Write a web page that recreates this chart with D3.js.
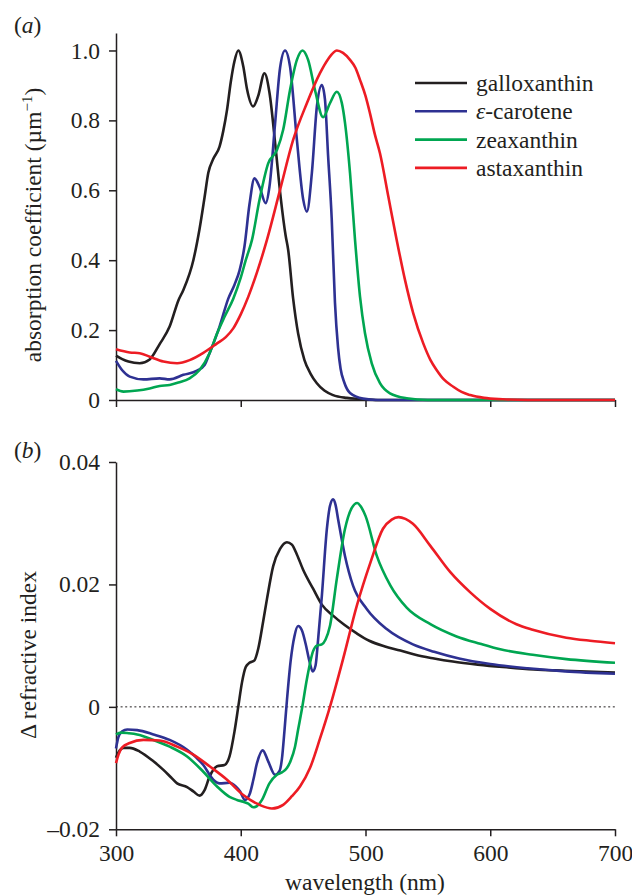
<!DOCTYPE html>
<html>
<head>
<meta charset="utf-8">
<script src="https://cdn.jsdelivr.net/npm/d3@7"></script>
<style>
  body { margin: 0; background: #fff; }
</style>
</head>
<body>
<svg id="chart" width="632" height="895"></svg>
<script>
// ---- data (wavelength nm, value) ----
const xTicks = [300, 400, 500, 600, 700];
const absTicks = [0, 0.2, 0.4, 0.6, 0.8, 1.0];
const rIdxTicks = [-0.02, 0, 0.02, 0.04];
const seriesNames = ["galloxanthin", "ε-carotene", "zeaxanthin", "astaxanthin"];

// (a) absorption coefficient
const absGallox = [[300,0.127],[305,0.117],[310,0.110],[319,0.105],[327,0.116],[335,0.160],[343,0.210],[350,0.285],[354,0.315],[362,0.400],[367,0.49],[371,0.58],[374,0.65],[378,0.69],[383,0.725],[386,0.77],[389,0.83],[392,0.91],[395,0.97],[398,1.0],[402,0.955],[405,0.89],[410,0.84],[414,0.87],[419,0.935],[423,0.88],[428,0.72],[432,0.58],[436,0.47],[438,0.43],[442,0.29],[446,0.19],[451,0.115],[456,0.075],[461,0.048],[467,0.027],[474,0.014],[485,0.006],[496,0.003],[510,0],[600,0],[700,0]];
const absEpsCar = [[300,0.112],[305,0.085],[311,0.067],[322,0.059],[335,0.062],[343,0.059],[354,0.072],[365,0.084],[371,0.10],[375,0.134],[380,0.18],[383,0.21],[390,0.29],[395,0.33],[399,0.37],[403,0.44],[407,0.56],[411,0.634],[415,0.61],[420,0.563],[423,0.61],[427.5,0.79],[431.5,0.95],[435.5,1.0],[439.5,0.954],[445,0.744],[450,0.575],[453,0.539],[457,0.649],[461,0.839],[465,0.901],[467.5,0.86],[470,0.70],[472.9,0.52],[475.5,0.28],[478,0.15],[480,0.09],[483,0.05],[487.6,0.02],[498,0.004],[510,0],[600,0],[700,0]];
const absZeax = [[300,0.031],[306,0.024],[317,0.027],[327,0.033],[335,0.040],[343,0.043],[350,0.05],[359,0.062],[367,0.086],[375,0.134],[381,0.19],[387,0.238],[394,0.29],[400,0.35],[404,0.40],[409,0.458],[415,0.572],[422,0.677],[429,0.715],[434,0.773],[439.5,0.887],[445,0.973],[449.5,1.0],[454,0.973],[459.5,0.887],[466,0.809],[471.5,0.849],[477,0.882],[481,0.85],[483.6,0.792],[487.6,0.649],[491.6,0.458],[495.6,0.296],[499.6,0.191],[505,0.105],[511.6,0.048],[519.6,0.019],[533,0.005],[550,0],[600,0],[700,0]];
const absAstax = [[300,0.145],[311,0.136],[319,0.134],[327,0.124],[338,0.11],[349,0.105],[359,0.114],[370,0.135],[381,0.162],[388,0.18],[394,0.205],[400,0.245],[406,0.295],[413,0.365],[421,0.458],[431.5,0.601],[442,0.744],[453,0.849],[463.5,0.935],[470,0.975],[477,1.0],[482,0.993],[487.6,0.973],[492,0.95],[495.6,0.916],[500,0.87],[503.6,0.82],[507.5,0.76],[511.6,0.706],[518.3,0.582],[525,0.458],[531.7,0.343],[538.3,0.248],[546.3,0.162],[552,0.115],[557,0.086],[563,0.058],[570.4,0.038],[577,0.023],[584,0.014],[595,0.006],[610,0.002],[630,0],[700,0]];

// (b) delta refractive index
const rIdxGallox = [[300,-0.0083],[303,-0.0071],[306,-0.0067],[311,-0.0067],[319,-0.0073],[330,-0.0089],[338,-0.0103],[344,-0.0115],[349,-0.0125],[357,-0.0131],[362,-0.0138],[367,-0.0145],[371,-0.0136],[375,-0.0114],[381,-0.0097],[387,-0.0095],[391,-0.0081],[395,-0.0040],[398,0.0],[401,0.0040],[404,0.0065],[407,0.0072],[411,0.0076],[414,0.0095],[418,0.014],[421,0.0176],[426,0.0230],[431.5,0.0258],[437,0.0269],[441,0.0265],[445,0.0249],[450,0.0224],[458,0.0193],[465,0.0167],[474,0.0149],[483,0.0134],[493,0.0120],[503,0.0108],[515,0.0099],[528,0.0092],[540,0.0085],[555,0.0079],[570,0.0074],[590,0.0069],[610,0.0065],[635,0.0061],[660,0.0059],[700,0.0056]];
const rIdxEpsCar = [[300,-0.0068],[302,-0.0049],[305,-0.0040],[309,-0.0037],[317,-0.0038],[330,-0.0045],[343,-0.0054],[357,-0.007],[370,-0.0095],[378,-0.0119],[383,-0.0125],[391,-0.0124],[396,-0.013],[399.4,-0.0138],[403.4,-0.0152],[407.4,-0.0141],[410,-0.012],[413,-0.0092],[417.6,-0.0071],[422,-0.0089],[427.5,-0.0111],[431,-0.0105],[433,-0.0085],[435,-0.004],[437,0.001],[440,0.0075],[443,0.0115],[446,0.0132],[449,0.0125],[452,0.0103],[455,0.0075],[457.7,0.0058],[460,0.0068],[462,0.0110],[465,0.0181],[469,0.0290],[471.5,0.0328],[474,0.0339],[476,0.033],[478,0.0307],[483.5,0.0247],[490,0.0198],[501,0.0160],[517,0.0127],[538,0.0102],[555,0.0090],[575,0.0079],[600,0.0070],[630,0.0063],[660,0.0058],[700,0.0054]];
const rIdxZeax = [[300,-0.0045],[304,-0.0042],[310,-0.0043],[317,-0.0045],[330,-0.0054],[343,-0.0065],[357,-0.0081],[370,-0.0106],[381,-0.013],[391,-0.0147],[397,-0.0152],[402,-0.0155],[406,-0.0158],[410,-0.0164],[413,-0.0162],[417,-0.0152],[423,-0.0125],[429,-0.0111],[433,-0.0107],[437,-0.0100],[440,-0.0088],[443.5,-0.0065],[446,-0.0037],[449,-0.0004],[453,0.0045],[458,0.0091],[461,0.0100],[465,0.0102],[468,0.011],[471.5,0.0132],[477,0.0209],[483.5,0.029],[489,0.0325],[493.4,0.0333],[496,0.0328],[500,0.0312],[509,0.0247],[520,0.0198],[533,0.0162],[552,0.0135],[573,0.0115],[592,0.0103],[608,0.0094],[634,0.0085],[661,0.0078],[700,0.0072]];
const rIdxAstax = [[300,-0.0092],[302,-0.0078],[305,-0.0066],[311,-0.0059],[322,-0.0054],[335,-0.0055],[349,-0.0065],[362,-0.0078],[375,-0.0097],[389,-0.0119],[402,-0.0144],[415,-0.016],[425,-0.0166],[434,-0.016],[441,-0.0146],[447.5,-0.0130],[455.5,-0.0100],[463.5,-0.0052],[471.5,0.0],[482,0.0078],[493,0.0165],[504,0.0236],[514,0.0291],[521,0.0306],[526.5,0.031],[532,0.0307],[538,0.0299],[552,0.0263],[568,0.0220],[584,0.0187],[600,0.0160],[621,0.0135],[634,0.0126],[661,0.0113],[680,0.0108],[700,0.0104]];

const seriesColors = ["#231f20", "#2e3192", "#00a651", "#ed1c24"];
const ink = "#231f20";
const fontSize = "23.5px";

const svg = d3.select("#chart");

const x = d3.scaleLinear().domain([300, 700]).range([116, 615]);
const yA = d3.scaleLinear().domain([0, 1.05]).range([400, 33]);
const yB = d3.scaleLinear().domain([-0.02, 0.04]).range([829.3, 462]);

function serifText(sel) {
    sel.style("font-family", '"Liberation Serif"').style("font-size", fontSize).style("fill", ink);
}

function styleAxis(g) {
    g.attr("font-family", null).attr("font-size", null);
    g.select(".domain").attr("stroke", ink).attr("stroke-width", 1.5);
    g.selectAll(".tick line").attr("stroke", ink).attr("stroke-width", 1.5);
    g.selectAll(".tick text").call(serifText);
}

// Panel (a) axes
svg.append("g")
    .attr("transform", `translate(0, ${yA(0)})`)
    .call(d3.axisBottom(x).tickValues(xTicks).tickSize(7).tickSizeOuter(0).tickFormat(""))
    .call(styleAxis);

svg.append("g")
    .attr("transform", `translate(${x(300)}, 0)`)
    .call(d3.axisLeft(yA).tickValues(absTicks).tickSize(7).tickPadding(9).tickSizeOuter(0)
        .tickFormat(d => d === 0 ? "0" : d3.format(".1f")(d)))
    .call(styleAxis);

// Panel (b) axes
svg.append("g")
    .attr("transform", `translate(0, ${yB(-0.02)})`)
    .call(d3.axisBottom(x).tickValues(xTicks).tickSize(7).tickPadding(8).tickSizeOuter(0))
    .call(styleAxis);

svg.append("g")
    .attr("transform", `translate(${x(300)}, 0)`)
    .call(d3.axisLeft(yB).tickValues(rIdxTicks).tickSize(7).tickPadding(9).tickSizeOuter(0)
        .tickFormat(d => d === 0 ? "0" : (d < 0 ? "–" : "") + d3.format(".2f")(Math.abs(d))))
    .call(styleAxis);

// zero line in (b)
svg.append("line")
    .attr("x1", x(300)).attr("x2", x(700))
    .attr("y1", yB(0)).attr("y2", yB(0))
    .attr("stroke", ink)
    .attr("stroke-width", 1)
    .attr("stroke-dasharray", "2,2.6");

// curves
const lineA = d3.line().x(d => x(d[0])).y(d => yA(d[1])).curve(d3.curveMonotoneX);
const lineB = d3.line().x(d => x(d[0])).y(d => yB(d[1])).curve(d3.curveMonotoneX);

[absGallox, absEpsCar, absZeax, absAstax].forEach((s, i) => {
    svg.append("path")
        .datum(s)
        .attr("fill", "none")
        .attr("stroke", seriesColors[i])
        .attr("stroke-width", 2.6)
        .attr("stroke-linejoin", "round")
        .attr("d", lineA);
});

[rIdxGallox, rIdxEpsCar, rIdxZeax, rIdxAstax].forEach((s, i) => {
    svg.append("path")
        .datum(s)
        .attr("fill", "none")
        .attr("stroke", seriesColors[i])
        .attr("stroke-width", 2.6)
        .attr("stroke-linejoin", "round")
        .attr("d", lineB);
});

// legend
const legend = svg.append("g").attr("transform", "translate(415, 83)");
seriesNames.forEach((name, i) => {
    const row = legend.append("g").attr("transform", `translate(0, ${i * 28.3})`);
    row.append("line")
        .attr("x1", 0).attr("x2", 52)
        .attr("stroke", seriesColors[i])
        .attr("stroke-width", 2.6);
    const t = row.append("text")
        .attr("x", 61).attr("y", 8)
        .call(serifText);
    if (name.startsWith("ε")) {
        t.append("tspan").style("font-style", "italic").text("ε");
        t.append("tspan").text(name.slice(1));
    } else {
        t.text(name);
    }
});

// panel letters
[["a", 33], ["b", 458]].forEach(([letter, yPos]) => {
    const t = svg.append("text").attr("x", 14).attr("y", yPos).call(serifText);
    t.append("tspan").text("(");
    t.append("tspan").style("font-style", "italic").text(letter);
    t.append("tspan").text(")");
});

// axis titles
const yLabA = svg.append("text")
    .attr("transform", "translate(41, 225) rotate(-90)")
    .attr("text-anchor", "middle")
    .call(serifText);
yLabA.append("tspan").text("absorption coefficient (µm");
yLabA.append("tspan").style("font-size", "15px").attr("dy", -9).text("−1");
yLabA.append("tspan").attr("dy", 9).text(")");

svg.append("text")
    .attr("transform", "translate(36, 655) rotate(-90)")
    .attr("text-anchor", "middle")
    .call(serifText)
    .text("Δ refractive index");

svg.append("text")
    .attr("x", 365).attr("y", 890)
    .attr("text-anchor", "middle")
    .call(serifText)
    .text("wavelength (nm)");
</script>
</body>
</html>
